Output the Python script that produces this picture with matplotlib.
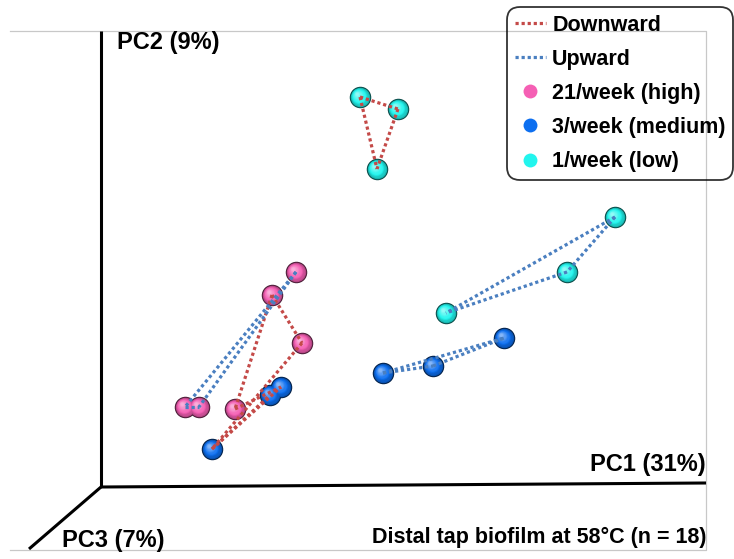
import numpy as np
import matplotlib.pyplot as plt
from matplotlib.lines import Line2D
from matplotlib.colors import to_rgb

plt.rcParams['font.family'] = ['Liberation Sans', 'DejaVu Sans']
plt.rcParams['font.weight'] = 'bold'

# projected ordination coordinates (screen plane of the 3D view)
high_x = [296, 272, 302, 185, 199, 235]
high_y = [287, 264, 216, 152, 152, 150]
med_x = [212, 270, 281, 383, 433, 504]
med_y = [110, 164, 172, 186, 193, 221]
low_x = [360, 398, 377, 615, 567, 446]
low_y = [462, 450, 390, 342, 287, 246]

group_labels = ['21/week (high)', '3/week (medium)', '1/week (low)']
group_colors = ['#f55fb4', '#0d6ff0', '#22f5ee']

# sample pairs joined by dotted lines
down_pairs = [('L1', 'L2'), ('L2', 'L3'), ('L1', 'L3'),
              ('H2', 'H3'), ('H2', 'H6'), ('H3', 'M1'),
              ('M1', 'M2'), ('M1', 'M3'), ('H6', 'M3')]
up_pairs = [('H1', 'H4'), ('H1', 'H5'), ('H4', 'H5'),
            ('L4', 'L5'), ('L4', 'L6'), ('L5', 'L6'),
            ('M4', 'M5'), ('M4', 'M6'), ('M5', 'M6')]

DOWN_COLOR = '#c44a48'
UP_COLOR = '#4a7fc0'

samples = {}
for tag, xs, ys in (('H', high_x, high_y), ('M', med_x, med_y), ('L', low_x, low_y)):
    for i, (x, y) in enumerate(zip(xs, ys)):
        samples[f'{tag}{i + 1}'] = (x, y)


def draw_spheres(ax, xs, ys, color, d=21.5):
    """Fake 3D balls: stacked discs getting lighter towards the upper left."""
    base = np.array(to_rgb(color))
    xs = np.asarray(xs, float)
    ys = np.asarray(ys, float)
    ax.scatter(xs, ys, s=(d * 0.72) ** 2, color=base * 0.3, lw=0, zorder=2)
    n = 14
    for k in range(n):
        t = k / (n - 1)
        dk = (d - 2.0) * (1 - 0.85 * t)
        off = 3.2 * t
        if t < 0.35:
            col = base * (0.7 + 0.3 * t / 0.35)
        else:
            col = base + (1 - base) * 0.5 * (t - 0.35) / 0.65
        ax.scatter(xs - off, ys + off, s=(dk * 0.72) ** 2, color=np.clip(col, 0, 1),
                   lw=0, zorder=2)


fig = plt.figure(figsize=(7.34, 5.59), dpi=100)
ax = fig.add_axes([0, 0, 1, 1])
ax.set_xlim(0, 734)
ax.set_ylim(0, 559)
ax.axis('off')

# light frame around the plot area
ax.plot([10, 706, 706, 10], [528, 528, 9, 9], color='#c8c8c8', lw=0.9, zorder=0)

# 3D axes
ax.plot([101, 101], [528, 72], color='black', lw=2.2, solid_capstyle='butt', zorder=1)
ax.plot([101, 706], [72, 76], color='black', lw=2.2, solid_capstyle='butt', zorder=1)
ax.plot([101, 29], [72, 10], color='black', lw=2.2, solid_capstyle='butt', zorder=1)

ax.text(117, 516, 'PC2 (9%)', fontsize=17, ha='left', va='center')
ax.text(706, 94, 'PC1 (31%)', fontsize=17, ha='right', va='center')
ax.text(62, 18, 'PC3 (7%)', fontsize=17, ha='left', va='center')
ax.text(707, 22, 'Distal tap biofilm at 58°C (n = 18)', fontsize=15.5,
        ha='right', va='center')

for xs, ys, c in zip((high_x, med_x, low_x), (high_y, med_y, low_y), group_colors):
    draw_spheres(ax, xs, ys, c)

for pairs, c in ((down_pairs, DOWN_COLOR), (up_pairs, UP_COLOR)):
    for a, b in pairs:
        (x0, y0), (x1, y1) = samples[a], samples[b]
        ax.plot([x0, x1], [y0, y1], color=c, lw=2.3, ls=(0, (1, 0.9)),
                dash_capstyle='butt', zorder=3)

handles = [Line2D([], [], color=DOWN_COLOR, lw=2.3, ls=(0, (1, 0.9))),
           Line2D([], [], color=UP_COLOR, lw=2.3, ls=(0, (1, 0.9)))]
handles += [Line2D([], [], ls='none', marker='o', ms=10, mfc=c, mec='none')
            for c in group_colors]
labels = ['Downward', 'Upward'] + group_labels

leg = ax.legend(handles, labels, loc='upper left',
                bbox_to_anchor=(507 / 734, 1 - 7 / 559),
                prop={'weight': 'bold', 'size': 15.5},
                handlelength=1.45, handletextpad=0.3, labelspacing=0.61,
                borderpad=0.35, borderaxespad=0, frameon=True, fancybox=True)
frame = leg.get_frame()
frame.set_facecolor('none')
frame.set_edgecolor('black')
frame.set_linewidth(1.3)
frame.set_boxstyle('round,pad=0,rounding_size=0.6')

fig.savefig('out.png', dpi=100)
